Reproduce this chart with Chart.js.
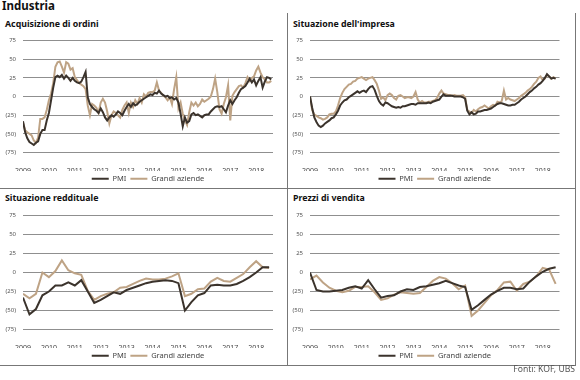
<!DOCTYPE html>
<html>
<head>
<meta charset="utf-8">
<script src="https://cdn.jsdelivr.net/npm/chart.js@4.4.0/dist/chart.umd.min.js"></script>
<style>
  body { margin: 0; width: 580px; height: 380px; background: #fff; position: relative; overflow: hidden; font-family: "Noto Sans", sans-serif; }
  .txt { position: absolute; white-space: nowrap; color: #111; }
  .ttl { font-size: 8.8px; font-weight: bold; }
  canvas { position: absolute; }
  .rule { position: absolute; background: #777; }
</style>
</head>
<body>
<div class="txt" style="left:2px;top:-2px;font-size:11.5px;font-weight:bold">Industria</div>

<div class="txt ttl" id="t1" style="left:5px;top:18px"></div>
<div class="txt ttl" id="t2" style="left:293px;top:18px"></div>
<div class="txt ttl" id="t3" style="left:5px;top:192px"></div>
<div class="txt ttl" id="t4" style="left:293px;top:192px"></div>

<canvas id="c1" width="286" height="163" style="left:0;top:30px"></canvas>
<canvas id="c2" width="286" height="163" style="left:288px;top:30px"></canvas>
<canvas id="c3" width="286" height="165" style="left:0;top:205px"></canvas>
<canvas id="c4" width="286" height="165" style="left:288px;top:205px"></canvas>

<div class="rule" style="left:287px;top:13px;width:1px;height:352px"></div>
<div class="rule" style="left:575px;top:13px;width:1px;height:352px"></div>
<div class="rule" style="left:0;top:188px;width:576px;height:1px"></div>
<div class="rule" style="left:0;top:365px;width:576px;height:1px"></div>

<div class="txt" style="right:5px;top:363px;font-size:8.6px;color:#555">Fonti: KOF, UBS</div>

<script>
const panelTitles = ['Acquisizione di ordini', "Situazione dell'impresa", 'Situazione reddituale', 'Prezzi di vendita'];
const seriesNames = ['PMI', 'Grandi aziende'];
const years = [2009, 2010, 2011, 2012, 2013, 2014, 2015, 2016, 2017, 2018];
const yTicks = [-75, -50, -25, 0, 25, 50, 75];

// monthly, from Jan 2009
const ordiniPmi = [
  -33, -48, -56, -61, -63, -65, -62, -60, -50, -45, -45, -32,
  -22, -5, 12, 26, 28, 26, 29, 24, 28, 25, 21, 25,
  21, 19, 18, 20, 26, 33, -1, -10, -14, -17, -19, -22,
  -16, -21, -28, -32, -28, -25, -27, -24, -20, -22, -25, -19,
  -14, -10, -14, -9, -12, -10, -7, -5, -3, -1, 1, 3,
  2, 5, 4, 8, 4, 2, 0, 1, -2, -1, -4, -2,
  -8, -23, -40, -28, -35, -33, -24, -22, -25, -24, -26, -28,
  -25, -24, -24, -20, -17, -14, -13, -14, -13, -17, -21, -12,
  -5, -10, -5, -1, 5, 10, 12, 14, 19, 24, 19, 23,
  15, 21, 26, 12, 20, 26, 25, 23
];
const ordiniGrandi = [
  -35, -45, -48, -50, -52, -59, -62, -55, -30, -30, -28, -18,
  -5, 4, 18, 40, 46, 47, 40, 32, 46, 44, 36, 38,
  26, 22, 18, 16, 14, 10, -12, -25, -10, -12, -15, -22,
  -8, -3, -8, -20, -36, -25, -20, -22, -25, -28, -18, -12,
  -8, -22, -8, -14, -5, -10, -2, -8, 3, 0, 5, 6,
  6, 8, 19, 8, 5, 1, -1, -5, -1, -10, 10, 26,
  -16, -8, -23, -32, -38, -21, -8, -12, -8, -13, -10, -4,
  -7, -5, -3, 0, 10, 24, 6, -17, -23, -10, -1, 15,
  -32, 1, 6, 10, 14, 15, 12, 18, 26, 21, 25, 27,
  35, 40, 32, 26, 23, 19, 19, 21
];
const impresaPmi = [
  0, -15, -28, -34, -39, -41, -39, -36, -34, -32, -29, -28,
  -24, -19, -12, -8, -5, -4, -1, 1, 3, 5, 7, 5,
  7, 8, 6, 10, 13, 14, 9, 1, -6, -10, -12, -8,
  -9, -11, -13, -14, -15, -14, -15, -13, -13, -12, -11, -10,
  -10, -11, -9, -9, -9, -9, -9, -8, -9, -7, -6, -5,
  -4, 0, 3, 1, 1, 1, 1, 0, 0, 0, 0, -1,
  -3, -19, -24, -21, -24, -23, -20, -20, -19, -18, -18, -17,
  -16, -14, -12, -10, -9, -9, -10, -11, -12, -12, -11, -11,
  -9, -7, -4, -2, 0, 3, 6, 8, 11, 13, 16, 18,
  21, 25, 30, 27, 24, 25, 24
];
const impresaGrandi = [
  0, -18, -24, -26, -28, -29, -31, -30, -28, -24, -23, -23,
  -20, -12, -2, 5, 10, 13, 16, 17, 20, 21, 24, 25,
  26, 24, 22, 24, 25, 26, 22, 17, 8, -3, -1, -5,
  2, 4, 2, -2, -4, 1, 2, 0, -2, -1, -1, -2,
  0, 6, -4, -8, -6, -8, -8, -7, -7, -6, -5, -2,
  4, 8, 4, 3, 2, 2, 1, 2, 1, 1, 1, 2,
  -1, -18, -20, -22, -18, -20, -17, -15, -14, -12, -14, -16,
  -13, -11, -12, -7, -8, -6, 8, -4, -2, -4, -5, -6,
  -4, -2, 1, 3, 5, 8, 10, 13, 17, 20, 25, 27,
  22, 24, 29, 27, 24, 26, 24
];
// quarterly, from Q1 2009
const redditualePmi = [
  -33, -55, -48, -30, -25, -17, -17, -13, -17, -10, -25, -40, -36,
  -31, -26, -28, -23, -20, -17, -14, -12, -11, -10, -11, -14, -50,
  -39, -30, -27, -17, -16, -17, -17, -15, -11, -6, 0, 7, 7
];
const redditualeGrandi = [
  -28, -34, -28, 0, -6, 2, 16, 3, -1, -3, -24, -36, -31,
  -28, -26, -20, -19, -15, -11, -8, -9, -9, -8, -5, -1, -31,
  -28, -22, -21, -12, -7, -11, -12, -7, -2, 7, 15, 7, 6
];
const prezziPmi = [
  0, -23, -25, -25, -24, -23, -20, -18, -21, -10, -22, -33, -31,
  -30, -25, -22, -23, -19, -18, -16, -14, -11, -14, -17, -19, -49,
  -43, -36, -29, -24, -20, -20, -22, -21, -12, -5, 1, 5, 7
];
const prezziGrandi = [
  -9, -4, -13, -20, -24, -26, -24, -19, -19, -18, -26, -36, -34,
  -29, -26, -27, -28, -27, -19, -11, -6, -8, -14, -22, -17, -57,
  -50, -40, -30, -23, -13, -12, -24, -15, -12, -5, 6, 4, -15
];

const pmiColor = '#3b332c';
const grandiColor = '#bea385';
const fontFamily = '"Noto Sans", sans-serif';

panelTitles.forEach((t, i) => { document.getElementById('t' + (i + 1)).textContent = t; });

function toPoints(values, perYear) {
  return values.map((v, i) => ({ x: 2009 + i / perYear, y: v }));
}

function makePanel(id, pmi, grandi, perYear, pad) {
  return new Chart(document.getElementById(id), {
    type: 'line',
    data: {
      datasets: [
        { label: seriesNames[0], data: toPoints(pmi, perYear), borderColor: pmiColor, backgroundColor: pmiColor, borderWidth: 2, pointRadius: 0, tension: 0 },
        { label: seriesNames[1], data: toPoints(grandi, perYear), borderColor: grandiColor, backgroundColor: grandiColor, borderWidth: 2, pointRadius: 0, tension: 0 }
      ]
    },
    options: {
      responsive: false,
      animation: false,
      devicePixelRatio: 1,
      layout: { padding: { top: pad.top, right: pad.right, bottom: 0.5, left: 0 } },
      plugins: {
        tooltip: { enabled: false },
        legend: {
          position: 'bottom',
          fullSize: false,
          labels: {
            usePointStyle: true, pointStyle: 'line', pointStyleWidth: 17,
            padding: 4, color: '#444', font: { size: 7.5, family: fontFamily }
          }
        }
      },
      scales: {
        x: {
          type: 'linear', min: 2009, max: 2018.65,
          afterBuildTicks: s => { s.ticks = years.map(v => ({ value: v })); },
          afterFit: s => { s.height = 18.5; },
          grid: { display: false }, border: { display: false },
          ticks: { padding: 6, maxRotation: 0, autoSkip: false, color: '#444', font: { size: 7, family: fontFamily }, callback: v => String(v) }
        },
        y: {
          min: -75, max: 75,
          afterBuildTicks: s => { s.ticks = yTicks.map(v => ({ value: v })); },
          afterFit: s => { s.width = pad.yw; },
          grid: { color: '#8f8f8f', lineWidth: 1, drawTicks: false }, border: { display: false },
          ticks: { padding: 7, color: '#555', font: { size: 6, family: fontFamily }, callback: v => v < 0 ? '(' + (-v) + ')' : String(v) }
        }
      }
    }
  });
}

makePanel('c1', ordiniPmi, ordiniGrandi, 12, { top: 10.5, right: 13, yw: 23 });
makePanel('c2', impresaPmi, impresaGrandi, 12, { top: 10.5, right: 14.5, yw: 22 });
makePanel('c3', redditualePmi, redditualeGrandi, 4, { top: 9.5, right: 13, yw: 23 });
makePanel('c4', prezziPmi, prezziGrandi, 4, { top: 9.5, right: 14.5, yw: 22 });
</script>
</body>
</html>
